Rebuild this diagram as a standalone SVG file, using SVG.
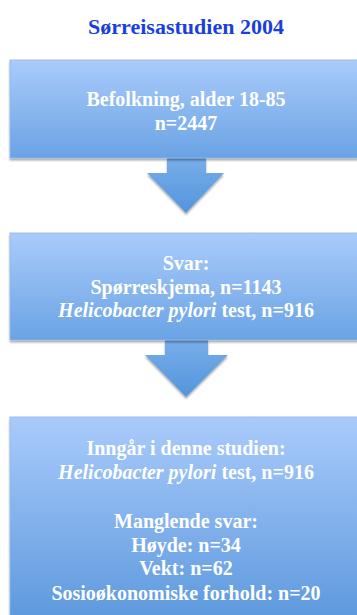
<svg xmlns="http://www.w3.org/2000/svg" width="357" height="615" viewBox="0 0 357 615">
<defs>
<linearGradient id="g1" x1="0" y1="0" x2="0" y2="1">
<stop offset="0" stop-color="#aacbfb"/>
<stop offset="1" stop-color="#6aa3e4"/>
</linearGradient>
<linearGradient id="g3" x1="0" y1="0" x2="0" y2="1">
<stop offset="0" stop-color="#aacbfb"/>
<stop offset="1" stop-color="#5a97dc"/>
</linearGradient>
<linearGradient id="ga" x1="0" y1="0" x2="0" y2="1">
<stop offset="0" stop-color="#78ade9"/>
<stop offset="1" stop-color="#5395dc"/>
</linearGradient>
<filter id="sh" x="-10%" y="-10%" width="120%" height="130%">
<feGaussianBlur in="SourceAlpha" stdDeviation="1.2"/>
<feOffset dx="0" dy="1.5"/>
<feComponentTransfer><feFuncA type="linear" slope="0.35"/></feComponentTransfer>
<feMerge><feMergeNode/><feMergeNode in="SourceGraphic"/></feMerge>
</filter>
</defs>
<style>
.t{font-family:"Liberation Serif","Times New Roman",serif;font-weight:bold;font-size:20px;fill:#ffffff;text-anchor:middle}
.i{font-style:italic}
.title{font-family:"Liberation Serif","Times New Roman",serif;font-weight:bold;font-size:22px;fill:#1a3fe0;text-anchor:middle}
.box{stroke:#8fb6e6;stroke-width:0.8}
</style>
<text class="title" x="186" y="34">Sørreisastudien 2004</text>
<g id="connectors">
<path d="M167,158 H206 V173 H224 L186,213 L147,173 H167 Z" fill="url(#ga)" filter="url(#sh)"/>
<path d="M165,340 H208 V355 H228 L186,397 L145,355 H165 Z" fill="url(#ga)" filter="url(#sh)"/>
</g>
<g id="node1">
<rect class="box" x="10" y="60" width="360" height="98" fill="url(#g1)" filter="url(#sh)"/>
<text class="t" x="186" y="106">Befolkning, alder 18-85</text>
<text class="t" x="186" y="130">n=2447</text>
</g>
<g id="node2">
<rect class="box" x="10" y="233" width="360" height="107" fill="url(#g1)" filter="url(#sh)"/>
<text class="t" x="186" y="270">Svar:</text>
<text class="t" x="186" y="294">Spørreskjema, n=1143</text>
<text class="t" x="186" y="317"><tspan class="i">Helicobacter pylori</tspan> test, n=916</text>
</g>
<g id="node3">
<rect class="box" x="10" y="417" width="360" height="210" fill="url(#g3)" filter="url(#sh)"/>
<text class="t" x="186" y="455">Inngår i denne studien:</text>
<text class="t" x="186" y="479"><tspan class="i">Helicobacter pylori</tspan> test, n=916</text>
<text class="t" x="186" y="528">Manglende svar:</text>
<text class="t" x="186" y="552">Høyde: n=34</text>
<text class="t" x="186" y="575">Vekt: n=62</text>
<text class="t" x="186" y="600">Sosioøkonomiske forhold: n=20</text>
</g>
</svg>
